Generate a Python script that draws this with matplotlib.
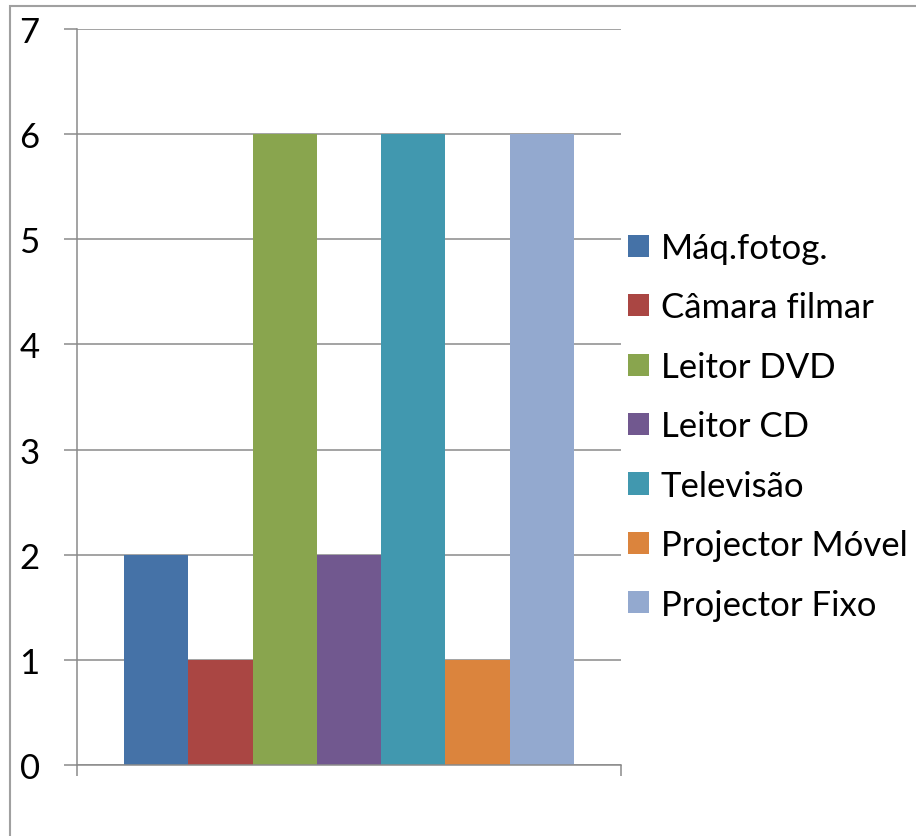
import matplotlib
matplotlib.use("Agg")
import matplotlib.pyplot as plt
from matplotlib.patches import Rectangle, Patch

series = ["Máq.fotog.", "Câmara filmar", "Leitor DVD", "Leitor CD",
          "Televisão", "Projector Móvel", "Projector Fixo"]
values = [2, 1, 6, 2, 6, 1, 6]
colors = ["#4572A7", "#AA4643", "#89A54E", "#71588F", "#4198AF", "#DB843D", "#93A9CF"]
yticks = [0, 1, 2, 3, 4, 5, 6, 7]

plt.rcParams['font.family'] = ['Lato', 'DejaVu Sans']
W, H = 916, 837
fig = plt.figure(figsize=(W / 100, H / 100), dpi=100)
ax = fig.add_axes([77 / W, 1 - 766 / H, (621 - 77) / W, (766 - 30) / H])

grey = "#8a8a8a"
bw = 64.33 / 544
start = 0.5 - bw * len(values) / 2
for i, (v, c, s) in enumerate(zip(values, colors, series)):
    ax.bar(start + bw * (i + 0.5), v, width=bw, color=c, label=s, zorder=3, linewidth=0)

ax.set_xlim(0, 1)
ax.set_ylim(0, 7)
ax.set_yticks(yticks)
ax.set_yticklabels([str(t) for t in yticks], fontsize=25)
ax.set_xticks([0, 1])
ax.set_xticklabels([])
ax.tick_params(axis='y', length=9.4, width=1.1, color=grey, pad=17.5)
ax.tick_params(axis='x', length=8, width=1.1, color=grey)
ax.yaxis.grid(True, color=grey, linewidth=1.1, zorder=0)
ax.set_axisbelow(True)
for sp in ["top", "right"]:
    ax.spines[sp].set_visible(False)
for sp in ["left", "bottom"]:
    ax.spines[sp].set_color(grey)
    ax.spines[sp].set_linewidth(1.1)
    ax.spines[sp].set_zorder(4)

handles = [Patch(facecolor=c, edgecolor='none') for c in colors]
leg = fig.legend(handles, series, loc='upper left',
                 bbox_to_anchor=(628 / W, 1 - 233 / H),
                 frameon=False, fontsize=25, handlelength=0.6, handleheight=0.6,
                 handletextpad=0.35, labelspacing=0.79, borderaxespad=0, borderpad=0)

fig.patches.append(Rectangle((10 / W, -0.1), 2, (H - 7) / H + 0.1,
                             transform=fig.transFigure, fill=False,
                             edgecolor="#a0a0a0", linewidth=1.5))

fig.savefig("out.png", dpi=100)
